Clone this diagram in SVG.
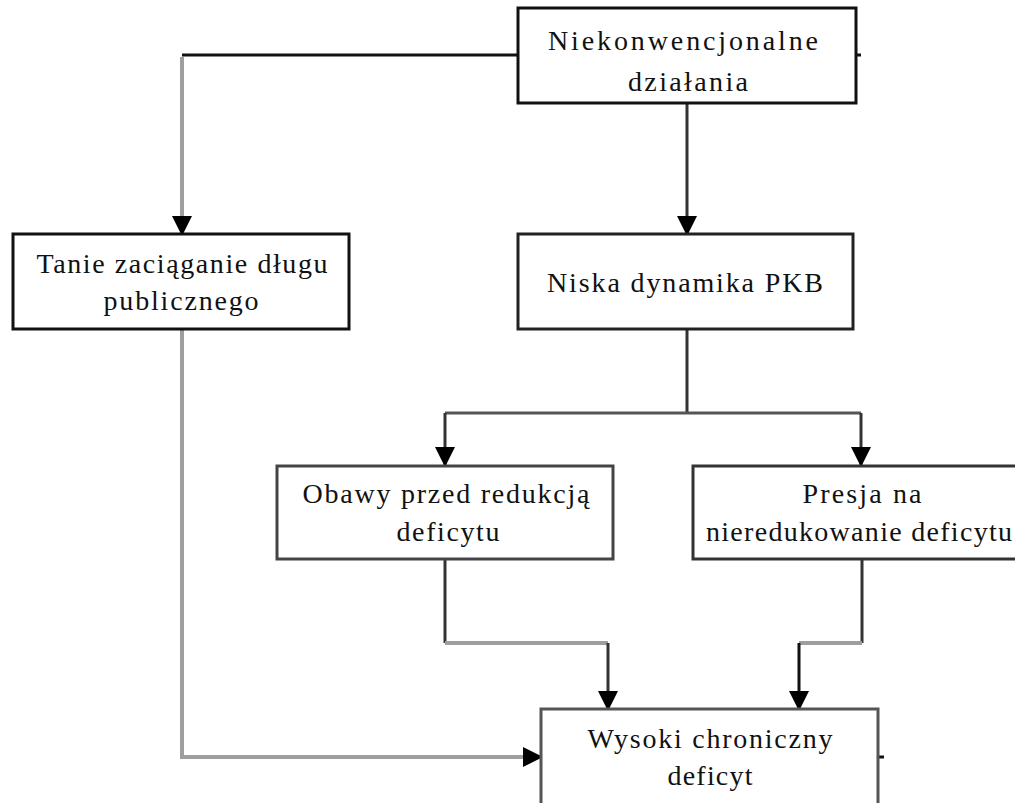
<svg xmlns="http://www.w3.org/2000/svg" width="1015" height="803" viewBox="0 0 1015 803">
<defs>
<marker id="arr" markerUnits="userSpaceOnUse" markerWidth="20" markerHeight="20" refX="18" refY="10" orient="auto" viewBox="0 0 20 20">
<path d="M0,0 L20,10 L0,20 Z" fill="#000"/>
</marker>
<style>
.box{fill:#fff;stroke:#222;stroke-width:3}
.t{font-family:"Liberation Serif","Times New Roman",serif;font-size:28px;fill:#111;text-anchor:middle}
.dark{fill:none;stroke:#333;stroke-width:3}
.gray{fill:none;stroke:#9e9e9e;stroke-width:4}
</style>
</defs>
<rect width="1015" height="803" fill="#fff"/>
<g id="connectors">
<path class="dark" d="M182,55 H518" style="stroke:#111"/>
<path class="dark" d="M856,55 H861" style="stroke:#111"/>
<path class="gray" d="M182,57 V234" marker-end="url(#arr)"/>
<path class="dark" d="M687,103 V234" marker-end="url(#arr)"/>
<path class="dark" d="M687,329 V413"/>
<path class="dark" d="M445,413 H861" style="stroke:#555"/>
<path class="dark" d="M445,413 V465" marker-end="url(#arr)"/>
<path class="dark" d="M861,413 V465" marker-end="url(#arr)"/>
<path class="gray" d="M182,329 V757 H541" marker-end="url(#arr)"/>
<path class="dark" d="M445,559 V643"/>
<path class="gray" d="M445,643 H608"/>
<path class="dark" d="M608,643 V709" marker-end="url(#arr)"/>
<path class="dark" d="M862,559 V643"/>
<path class="gray" d="M862,643 H799"/>
<path class="dark" d="M799,643 V709" marker-end="url(#arr)" style="stroke:#111"/>
<path class="dark" d="M878,757 H884" style="stroke:#111"/>
</g>
<g id="n1">
<rect class="box" x="518" y="8" width="338" height="95" style="stroke:#111"/>
<text class="t" x="683" y="50" textLength="270" lengthAdjust="spacing">Niekonwencjonalne</text>
<text class="t" x="688" y="91" textLength="120" lengthAdjust="spacing">działania</text>
</g>
<g id="n2">
<rect class="box" x="13" y="234" width="336" height="95" style="stroke:#111"/>
<text class="t" x="182" y="273" textLength="291" lengthAdjust="spacing">Tanie zaciąganie długu</text>
<text class="t" x="181" y="310" textLength="155" lengthAdjust="spacing">publicznego</text>
</g>
<g id="n3">
<rect class="box" x="518" y="234" width="335" height="95"/>
<text class="t" x="685" y="292" textLength="276" lengthAdjust="spacing">Niska dynamika PKB</text>
</g>
<g id="n4">
<rect class="box" x="277" y="466" width="336" height="93" style="stroke:#444"/>
<text class="t" x="446" y="503" textLength="287" lengthAdjust="spacing">Obawy przed redukcją</text>
<text class="t" x="448" y="541" textLength="103" lengthAdjust="spacing">deficytu</text>
</g>
<g id="n5">
<rect class="box" x="693" y="466" width="340" height="93" style="stroke:#333"/>
<text class="t" x="862" y="503" textLength="119" lengthAdjust="spacing">Presja na</text>
<text class="t" x="859" y="541" textLength="306" lengthAdjust="spacing">nieredukowanie deficytu</text>
</g>
<g id="n6">
<rect class="box" x="541" y="709" width="337" height="110" style="stroke:#555"/>
<text class="t" x="710" y="748" textLength="245" lengthAdjust="spacing">Wysoki chroniczny</text>
<text class="t" x="710" y="785" textLength="85" lengthAdjust="spacing">deficyt</text>
</g>
</svg>
